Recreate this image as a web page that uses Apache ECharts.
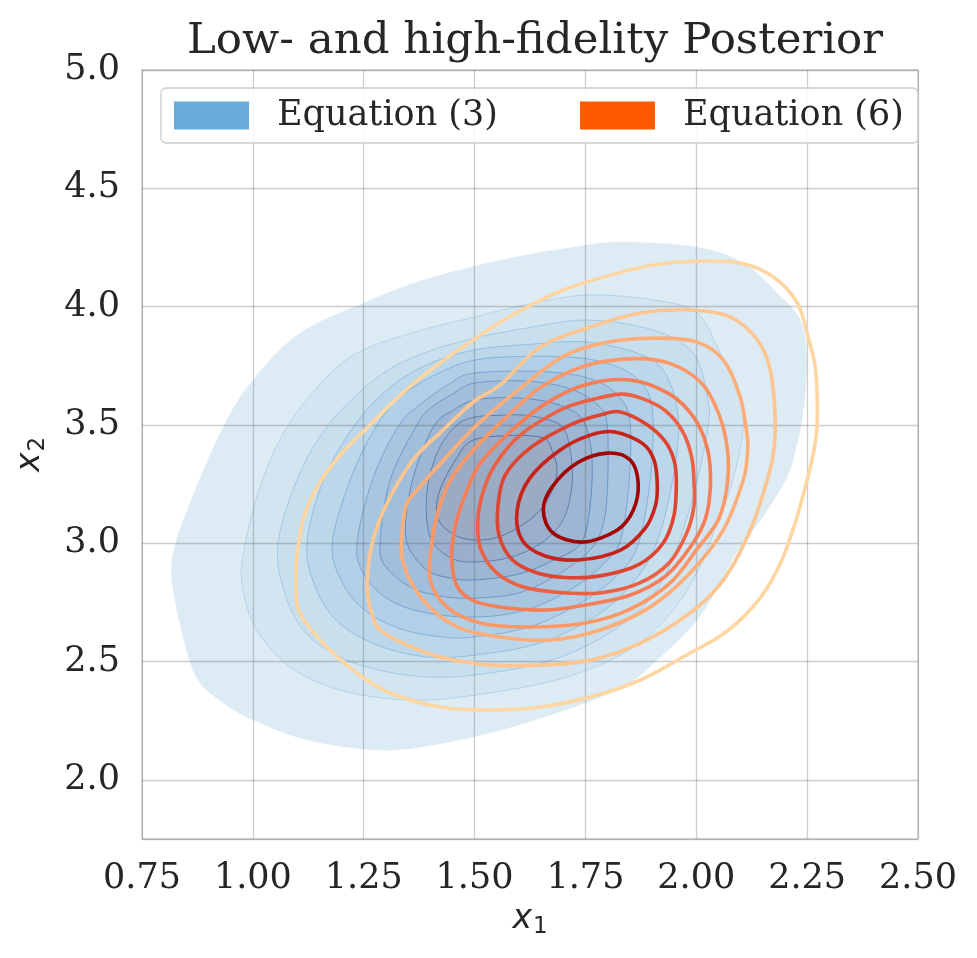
<!DOCTYPE html>
<html>
<head>
<meta charset="utf-8">
<title>Low- and high-fidelity Posterior</title>
<script src="https://cdn.jsdelivr.net/npm/echarts@6/dist/echarts.min.js"></script>
<style>
  html, body { margin: 0; padding: 0; background: #fff; }
  #chart { width: 977px; height: 958px; }
</style>
</head>
<body>
<div id="chart"></div>
<script>
// axis ranges and tick labels
var X_RANGE = [0.75, 2.5];
var X_STEP = 0.25;
var Y_RANGE = [1.75, 5.0];
var Y_TICKS = [2.0, 2.5, 3.0, 3.5, 4.0, 4.5, 5.0];

// Equation (3): filled KDE levels, outermost first, points are [x1, x2]
var BLUE_0 = [[1.558,4.197],[1.723,4.252],[1.835,4.273],[2.002,4.252],[2.106,4.184],[2.183,4.057],[2.235,3.943],[2.250,3.774],[2.241,3.550],[2.225,3.40],[2.205,3.28],[2.150,3.110],[2.099,2.984],[2.054,2.832],[2.002,2.675],[1.912,2.506],[1.835,2.392],[1.686,2.282],[1.535,2.198],[1.384,2.139],[1.271,2.126],[1.122,2.168],[1.000,2.253],[0.933,2.325],[0.881,2.409],[0.852,2.536],[0.820,2.802],[0.820,2.959],[0.858,3.170],[0.933,3.491],[1.000,3.690],[1.106,3.888],[1.249,4.015],[1.384,4.112]];
var BLUE_1 = [[2.106,3.5],[2.09,3.68],[2.054,3.804],[2.002,3.973],[1.903,4.028],[1.754,4.049],[1.62,4.01],[1.5,3.956],[1.38,3.90],[1.249,3.817],[1.167,3.702],[1.077,3.491],[1.016,3.238],[0.978,2.95],[0.978,2.802],[1.009,2.633],[1.084,2.477],[1.197,2.38],[1.348,2.337],[1.5,2.358],[1.70,2.43],[1.85,2.55],[1.94,2.70],[2.00,2.87],[2.04,3.05],[2.08,3.25]];
var BLUE_2 = [[2.027,3.5],[2.025,3.618],[1.993,3.804],[1.903,3.901],[1.754,3.943],[1.62,3.91],[1.5,3.867],[1.38,3.80],[1.28,3.70],[1.17,3.5],[1.10,3.27],[1.057,3.0],[1.07,2.80],[1.12,2.62],[1.22,2.50],[1.36,2.44],[1.5,2.443],[1.68,2.51],[1.82,2.64],[1.91,2.80],[1.96,3.0],[2.00,3.25]];
var BLUE_3 = [[1.96,3.5],[1.94,3.68],[1.889,3.787],[1.754,3.850],[1.62,3.84],[1.5,3.817],[1.40,3.76],[1.31,3.66],[1.23,3.5],[1.16,3.27],[1.122,3.0],[1.14,2.82],[1.19,2.67],[1.28,2.57],[1.39,2.52],[1.5,2.527],[1.65,2.58],[1.78,2.70],[1.86,2.84],[1.91,3.0],[1.945,3.25]];
var BLUE_4 = [[1.903,3.5],[1.89,3.64],[1.84,3.73],[1.75,3.78],[1.62,3.79],[1.5,3.774],[1.42,3.72],[1.34,3.63],[1.28,3.5],[1.22,3.27],[1.179,3.0],[1.20,2.84],[1.25,2.72],[1.33,2.64],[1.42,2.605],[1.5,2.604],[1.63,2.65],[1.75,2.76],[1.83,2.88],[1.87,3.0],[1.895,3.25]];
var BLUE_5 = [[1.851,3.5],[1.83,3.61],[1.77,3.69],[1.66,3.725],[1.5,3.719],[1.44,3.67],[1.38,3.59],[1.33,3.5],[1.27,3.27],[1.235,3.0],[1.25,2.87],[1.30,2.77],[1.38,2.71],[1.5,2.688],[1.62,2.72],[1.73,2.82],[1.80,2.93],[1.83,3.02],[1.848,3.25]];
var BLUE_6 = [[1.799,3.5],[1.78,3.58],[1.72,3.65],[1.62,3.685],[1.5,3.677],[1.45,3.63],[1.40,3.57],[1.37,3.5],[1.31,3.27],[1.287,3.0],[1.30,2.90],[1.36,2.81],[1.43,2.775],[1.5,2.768],[1.60,2.79],[1.69,2.87],[1.76,2.97],[1.79,3.08],[1.80,3.25]];
var BLUE_7 = [[1.75,3.5],[1.72,3.56],[1.66,3.60],[1.58,3.615],[1.5,3.605],[1.45,3.56],[1.41,3.5],[1.37,3.33],[1.348,3.15],[1.348,3.0],[1.39,2.89],[1.44,2.855],[1.5,2.845],[1.60,2.87],[1.68,2.93],[1.74,3.0],[1.76,3.15],[1.765,3.35]];
var BLUE_8 = [[1.715,3.40],[1.693,3.5],[1.62,3.54],[1.55,3.54],[1.5,3.533],[1.46,3.5],[1.42,3.40],[1.395,3.25],[1.392,3.1],[1.407,3.0],[1.45,2.935],[1.5,2.921],[1.58,2.94],[1.65,3.0],[1.70,3.10],[1.72,3.25]];
var BLUE_9 = [[1.686,3.309],[1.675,3.39],[1.655,3.445],[1.58,3.455],[1.497,3.436],[1.461,3.364],[1.422,3.225],[1.416,3.111],[1.45,3.04],[1.497,3.014],[1.56,3.03],[1.632,3.111],[1.672,3.21]];

// Equation (6): KDE contour lines, outermost first
var RED_1 = [[2.273,3.521],[2.269,3.732],[2.252,3.872],[2.228,4.015],[2.174,4.125],[2.099,4.184],[2.0,4.192],[1.90,4.175],[1.80,4.13],[1.70,4.07],[1.619,3.998],[1.558,3.935],[1.497,3.859],[1.422,3.762],[1.348,3.652],[1.264,3.5],[1.197,3.373],[1.145,3.238],[1.113,3.098],[1.10,2.95],[1.097,2.844],[1.106,2.705],[1.167,2.561],[1.235,2.451],[1.31,2.367],[1.422,2.308],[1.535,2.295],[1.648,2.308],[1.761,2.35],[1.874,2.422],[1.986,2.536],[2.047,2.599],[2.099,2.675],[2.149,2.781],[2.190,2.916],[2.223,3.085],[2.250,3.267],[2.266,3.40]];
var RED_2 = [[2.178,3.521],[2.167,3.732],[2.138,3.859],[2.077,3.956],[1.986,3.986],[1.874,3.973],[1.761,3.914],[1.648,3.829],[1.558,3.669],[1.497,3.597],[1.422,3.466],[1.361,3.352],[1.303,3.170],[1.271,3.014],[1.258,2.844],[1.264,2.730],[1.287,2.633],[1.348,2.570],[1.422,2.519],[1.535,2.485],[1.648,2.485],[1.761,2.506],[1.874,2.578],[1.986,2.705],[2.061,2.844],[2.122,3.056],[2.160,3.267],[2.174,3.381]];
var RED_3 = [[2.115,3.373],[2.115,3.449],[2.099,3.618],[2.061,3.774],[2.002,3.85],[1.912,3.867],[1.80,3.85],[1.70,3.79],[1.60,3.65],[1.50,3.49],[1.416,3.322],[1.38,3.245],[1.348,3.17],[1.337,3.056],[1.339,2.916],[1.384,2.760],[1.461,2.646],[1.558,2.604],[1.671,2.591],[1.783,2.633],[1.896,2.730],[1.986,2.874],[2.061,3.056],[2.106,3.267]];
var RED_4 = [[2.07,3.25],[2.07,3.40],[2.05,3.55],[2.01,3.68],[1.94,3.76],[1.86,3.78],[1.75,3.75],[1.65,3.66],[1.57,3.53],[1.50,3.40],[1.45,3.28],[1.42,3.15],[1.404,3.005],[1.40,2.845],[1.438,2.73],[1.513,2.663],[1.625,2.646],[1.75,2.663],[1.85,2.72],[1.94,2.83],[2.0,2.971],[2.05,3.10]];
var RED_5 = [[2.032,3.25],[2.025,3.40],[1.995,3.53],[1.94,3.63],[1.851,3.69],[1.75,3.67],[1.66,3.59],[1.58,3.47],[1.51,3.33],[1.474,3.18],[1.455,3.06],[1.449,2.93],[1.46,2.82],[1.50,2.755],[1.574,2.726],[1.664,2.718],[1.75,2.739],[1.85,2.78],[1.93,2.86],[1.985,2.98],[2.02,3.10]];
var RED_6 = [[1.995,3.25],[1.99,3.36],[1.97,3.47],[1.93,3.56],[1.88,3.61],[1.829,3.63],[1.75,3.60],[1.693,3.563],[1.603,3.457],[1.546,3.331],[1.517,3.204],[1.507,3.077],[1.515,2.97],[1.55,2.875],[1.61,2.815],[1.693,2.792],[1.783,2.79],[1.87,2.83],[1.94,2.92],[1.98,3.05],[1.995,3.16]];
var RED_7 = [[1.955,3.26],[1.95,3.35],[1.93,3.43],[1.89,3.50],[1.829,3.555],[1.783,3.542],[1.716,3.500],[1.625,3.402],[1.569,3.288],[1.553,3.161],[1.555,3.035],[1.585,2.93],[1.64,2.875],[1.704,2.855],[1.783,2.862],[1.87,2.91],[1.925,3.0],[1.95,3.12]];
var RED_8 = [[1.912,3.25],[1.905,3.35],[1.88,3.42],[1.817,3.470],[1.761,3.457],[1.693,3.394],[1.625,3.276],[1.596,3.140],[1.607,3.014],[1.659,2.946],[1.738,2.930],[1.829,2.971],[1.885,3.064],[1.908,3.16]];
var RED_9 = [[1.869,3.254],[1.851,3.352],[1.799,3.381],[1.731,3.339],[1.675,3.238],[1.655,3.140],[1.677,3.043],[1.745,3.005],[1.822,3.056],[1.858,3.140]];

var BLUE_LEVELS = [BLUE_0, BLUE_1, BLUE_2, BLUE_3, BLUE_4, BLUE_5, BLUE_6, BLUE_7, BLUE_8, BLUE_9];
var RED_LEVELS = [RED_1, RED_2, RED_3, RED_4, RED_5, RED_6, RED_7, RED_8, RED_9];

// colours
var BLUE_FILL = ['#ddebf4', '#d3e5f0', '#c8dfee', '#bcd7ea', '#b1cfe6', '#a8c6e0', '#a1bedb', '#9cb6d3', '#9aafcb', '#9babc4'];
var BLUE_EDGE = ['none', '#b6d3e9', '#a5c9e4', '#95bee0', '#86b2d9', '#78a6d2', '#6d99c9', '#658cbe', '#5f80b3', '#5a74a8'];
var RED_LINE = ['#fdd6a2', '#fdc590', '#fdae78', '#fc9766', '#f67e56', '#ec6144', '#de4430', '#c8231a', '#a10303'];

var FONT = 'DejaVu Serif';
var INK = '#262626';
var GRID = 'rgba(80,80,80,0.28)';

var chart = echarts.init(document.getElementById('chart'));

// closed Catmull-Rom curve through the contour points (already in pixels)
function splinePath(pts) {
    var n = pts.length;
    var f = function (v) { return v.toFixed(2); };
    var d = 'M' + f(pts[0][0]) + ' ' + f(pts[0][1]);
    for (var i = 0; i < n; i++) {
        var p0 = pts[(i - 1 + n) % n], p1 = pts[i], p2 = pts[(i + 1) % n], p3 = pts[(i + 2) % n];
        d += 'C' + f(p1[0] + (p2[0] - p0[0]) / 6) + ' ' + f(p1[1] + (p2[1] - p0[1]) / 6) +
             ' ' + f(p2[0] - (p3[0] - p1[0]) / 6) + ' ' + f(p2[1] - (p3[1] - p1[1]) / 6) +
             ' ' + f(p2[0]) + ' ' + f(p2[1]);
    }
    return d + 'Z';
}

function contourItem(levels, params, api) {
    var pts = levels[params.dataIndex].map(function (p) { return api.coord(p); });
    return { type: 'path', shape: { pathData: splinePath(pts) } };
}

var subRich = {
    i: { fontFamily: 'DejaVu Sans', fontStyle: 'italic', fontSize: 33, color: INK },
    s: { fontFamily: 'DejaVu Sans', fontSize: 23, color: INK, padding: [16, 0, 0, 1] }
};

var option = {
    animation: false,
    backgroundColor: '#ffffff',
    title: {
        text: 'Low- and high-fidelity Posterior',
        left: 530,
        top: 15,
        textAlign: 'center',
        textStyle: { fontFamily: FONT, fontSize: 43.5, fontWeight: 'normal', color: INK }
    },
    legend: {
        left: 161,
        top: 88,
        z: 10,
        icon: 'rect',
        itemWidth: 75,
        itemHeight: 28,
        itemGap: 82,
        padding: [10, 14, 10, 13],
        backgroundColor: 'rgba(255,255,255,0.85)',
        borderColor: '#cccccc',
        borderWidth: 1.3,
        borderRadius: 5,
        selectedMode: false,
        textStyle: { fontFamily: FONT, fontSize: 35, color: INK, padding: [0, 0, 0, 23] },
        data: [
            { name: 'Equation (3)', itemStyle: { color: '#68abdb', borderWidth: 0 } },
            { name: 'Equation (6)', itemStyle: { color: '#ff5a00', borderWidth: 0 } }
        ]
    },
    grid: {
        left: 142, right: 59, top: 70, bottom: 119,
        show: true, borderColor: '#cccccc', borderWidth: 1.3
    },
    xAxis: {
        type: 'value',
        min: X_RANGE[0], max: X_RANGE[1], interval: X_STEP,
        z: 3,
        name: '{i|x}{s|1}',
        nameLocation: 'middle',
        nameGap: 61,
        nameTextStyle: { rich: subRich },
        axisLine: { show: false },
        axisTick: { show: false },
        axisLabel: {
            margin: 22, fontFamily: FONT, fontSize: 35, color: INK,
            formatter: function (v) { return v.toFixed(2); }
        },
        splitLine: { lineStyle: { color: GRID, width: 1.3 } }
    },
    yAxis: {
        type: 'value',
        min: Y_RANGE[0], max: Y_RANGE[1], splitNumber: 6,
        z: 3,
        name: '{i|x}{s|2}',
        nameLocation: 'middle',
        nameGap: 92,
        nameRotate: 90,
        nameTextStyle: { rich: subRich },
        axisLine: { show: false },
        axisTick: { show: false },
        axisLabel: {
            margin: 22, fontFamily: FONT, fontSize: 35, color: INK,
            formatter: function (v) {
                for (var i = 0; i < Y_TICKS.length; i++) {
                    if (Math.abs(Y_TICKS[i] - v) < 1e-6) return v.toFixed(1);
                }
                return '';
            }
        },
        splitLine: { lineStyle: { color: GRID, width: 1.3 } }
    },
    series: [
        {
            name: 'Equation (3)',
            type: 'custom',
            z: 1,
            clip: true,
            itemStyle: { color: '#68abdb' },
            data: BLUE_LEVELS.map(function (lv, i) { return i; }),
            renderItem: function (params, api) {
                var el = contourItem(BLUE_LEVELS, params, api);
                var k = params.dataIndex;
                el.style = { fill: BLUE_FILL[k], stroke: BLUE_EDGE[k], lineWidth: 1 };
                return el;
            }
        },
        {
            name: 'Equation (6)',
            type: 'custom',
            z: 5,
            clip: true,
            itemStyle: { color: '#ff5a00' },
            data: RED_LEVELS.map(function (lv, i) { return i; }),
            renderItem: function (params, api) {
                var el = contourItem(RED_LEVELS, params, api);
                el.style = { fill: 'none', stroke: RED_LINE[params.dataIndex], lineWidth: 3.6 };
                return el;
            }
        }
    ]
};

chart.setOption(option);
</script>
</body>
</html>
